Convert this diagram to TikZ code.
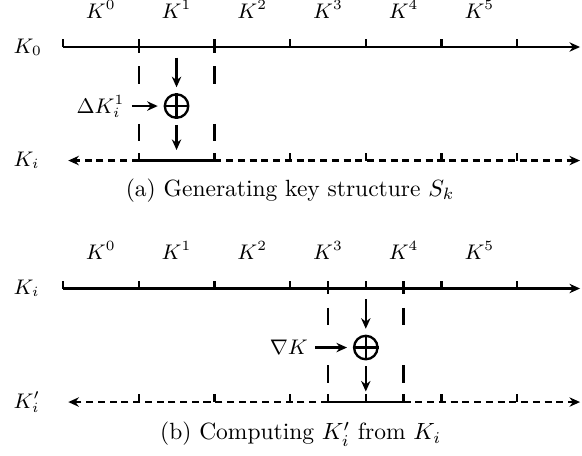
\documentclass[tikz,border=0pt]{standalone}
\usetikzlibrary{arrows.meta, positioning}

\begin{document}
\begin{tikzpicture}[
    x=1.133cm, y=1.133cm,
    keyline/.style={line width=1pt},
    dline/.style={line width=1pt, dash pattern=on 3pt off 2pt},
    winline/.style={
        line width=1pt,
        dash pattern=on 2.5pt off 5.8pt on 7.4pt off 17pt on 7.4pt off 5.8pt on 2.5pt
    },
    arr/.style={-{Stealth[length=4.5pt, width=4pt]}},
    xorop/.style={draw, circle, line width=1pt, minimum size=10pt, inner sep=0pt},
    partlab/.style={anchor=base, font=\small},
    rowlab/.style={anchor=west, font=\small},
    caplab/.style={anchor=base}
]

\useasboundingbox (-0.832, 0.621) rectangle (6.856, -5.390);

%% ---- (a) Generating key structure ----

% Key pieces above the line
\foreach \j in {0,...,5}
    \node[partlab] at (\j+0.5, 0.38) (pa\j) {$K^{\j}$};

% Row labels
\node[rowlab] at (-0.76, 0)    (ka)  {$K_0$};
\node[rowlab] at (-0.76, -1.5) (kia) {$K_i$};

% Points on both lines
\foreach \i in {0,...,6} {
    \coordinate (at\i) at (\i, 0);
    \coordinate (ab\i) at (\i, -1.5);
}
\coordinate (atE) at (6.83, 0);
\coordinate (abE) at (6.83, -1.5);
\coordinate (abL) at (0.07, -1.5);
\coordinate (atM) at (1.5, 0);
\coordinate (abM) at (1.5, -1.5);

% 1. K_0 line with ticks
\draw[keyline, arr] (at0) -- (atE);
\foreach \i in {0,...,6} \draw[keyline] (at\i) -- ++(0, 0.1);

% 2. K_i line: dashed outside the window, solid inside
\draw[dline, arr] (ab1) -- (abL);
\draw[keyline] (ab1) -- (ab2);
\draw[dline, arr] (ab2) -- (abE);
\foreach \i in {1,...,6} \draw[keyline] (ab\i) -- ++(0, 0.1);

% 3. Window round K^1
\draw[winline] (at1) -- (ab1);
\draw[winline] (at2) -- (ab2);

% 4. XOR with Delta K
\node[xorop] at (1.5, -0.78) (xa) {};
\draw[line width=1pt] (xa.north) -- (xa.south) (xa.west) -- (xa.east);
\node[left=15pt of xa, font=\small, inner sep=1.5pt] (dk) {$\Delta K_i^1$};
\draw[keyline, arr, shorten <=1.5pt, shorten >=2.5pt] (dk) -- (xa);
\draw[keyline, arr, shorten <=4.5pt, shorten >=2.5pt] (atM) -- (xa);
\draw[keyline, arr, shorten <=2.5pt, shorten >=4.5pt] (xa) -- (abM);

\node[caplab] at (3.0, -1.97) (capa) {(a) Generating key structure $S_k$};

%% ---- (b) Computing K_i' from K_i ----

% Key pieces above the line
\foreach \j in {0,...,5}
    \node[partlab] at (\j+0.5, -2.81) (pb\j) {$K^{\j}$};

% Row labels
\node[rowlab] at (-0.76, -3.19) (kib) {$K_i$};
\node[rowlab] at (-0.76, -4.69) (kpb) {$K_i'$};

% Points on both lines
\foreach \i in {0,...,6} {
    \coordinate (bt\i) at (\i, -3.19);
    \coordinate (bb\i) at (\i, -4.69);
}
\coordinate (btE) at (6.83, -3.19);
\coordinate (bbE) at (6.83, -4.69);
\coordinate (bbL) at (0.07, -4.69);
\coordinate (btW1) at (3.5, -3.19);
\coordinate (btW2) at (4.5, -3.19);
\coordinate (bbW1) at (3.5, -4.69);
\coordinate (bbW2) at (4.5, -4.69);

% 1. K_i line with ticks
\draw[keyline, arr] (bt0) -- (btE);
\foreach \i in {0,...,6} \draw[keyline] (bt\i) -- ++(0, 0.1);
\draw[keyline] (btW1) -- ++(0, 0.1);
\draw[keyline] (btW2) -- ++(0, 0.1);

% 2. K_i' line: dashed outside the window, solid inside
\draw[dline, arr] (bbW1) -- (bbL);
\draw[keyline] (bbW1) -- (bbW2);
\draw[dline, arr] (bbW2) -- (bbE);
\foreach \i in {1,...,6} \draw[keyline] (bb\i) -- ++(0, 0.1);
\draw[keyline] (bbW1) -- ++(0, 0.1);
\draw[keyline] (bbW2) -- ++(0, 0.1);

% 3. Window across K^3 and K^4
\draw[winline] (btW1) -- (bbW1);
\draw[winline] (btW2) -- (bbW2);

% 4. XOR with nabla K
\node[xorop] at (4, -3.97) (xb) {};
\draw[line width=1pt] (xb.north) -- (xb.south) (xb.west) -- (xb.east);
\node[left=17.5pt of xb, font=\small, inner sep=1.5pt] (nk) {$\nabla K$};
\draw[keyline, arr, shorten <=1.5pt, shorten >=2.5pt] (nk) -- (xb);
\draw[keyline, arr, shorten <=4.5pt, shorten >=2.5pt] (bt4) -- (xb);
\draw[keyline, arr, shorten <=2.5pt, shorten >=4.5pt] (xb) -- (bb4);

\node[caplab] at (3.14, -5.19) (capb) {(b) Computing $K_i'$ from $K_i$};

\end{tikzpicture}
\end{document}
